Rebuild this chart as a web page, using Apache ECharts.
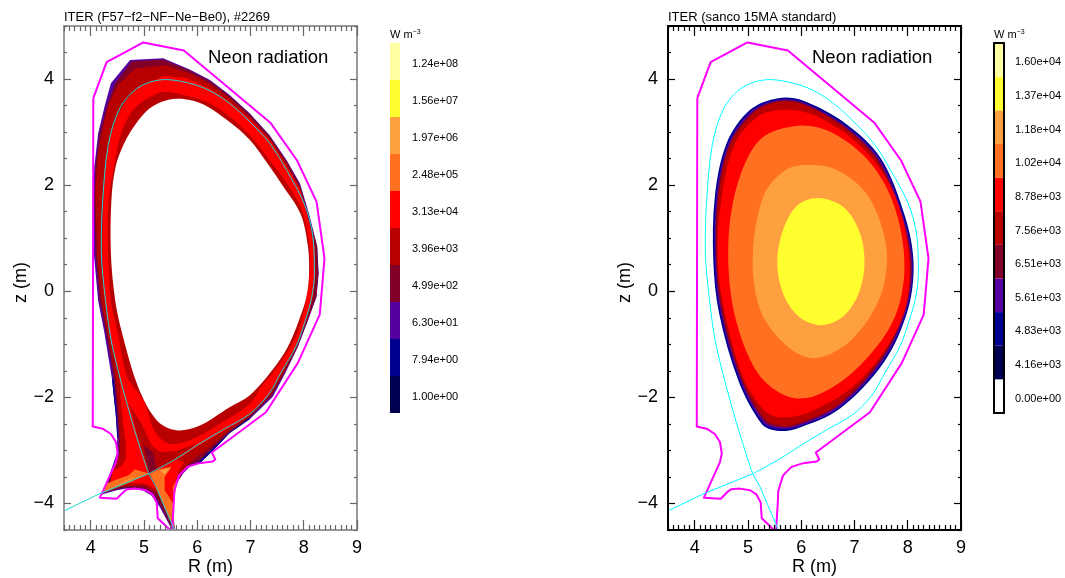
<!DOCTYPE html>
<html><head><meta charset="utf-8"><title>Neon radiation</title>
<script src="https://cdn.jsdelivr.net/npm/echarts@6/dist/echarts.min.js"></script>
<style>html,body{margin:0;padding:0;background:#fff}#c{width:1065px;height:578px}</style></head>
<body><div id="c"></div>
<script>
// ---------- tick values
const rTicks=[4,5,6,7,8,9];
const zTicks=[-4,-2,0,2,4];
const rMinor=[];for(let i=35;i<=90;i++)if(i%10)rMinor.push(i/10);
const zMinor=[-4.5,-3.5,-3,-2.5,-1.5,-1,-0.5,0.5,1,1.5,2.5,3,3.5,4.5,5];

// ---------- colour bars
const cbLeftLabels=['1.00e+00','7.94e+00','6.30e+01','4.99e+02','3.96e+03','3.13e+04','2.48e+05','1.97e+06','1.56e+07','1.24e+08'];
const cbRightLabels=['0.00e+00','4.16e+03','4.83e+03','5.61e+03','6.51e+03','7.56e+03','8.78e+03','1.02e+04','1.18e+04','1.37e+04','1.60e+04'];
const NAVY='#000050',BLUE='#000090',PURPLE='#5500a0',MAROON='#800028',DARK='#b80000',RED='#ff0000',ORANGE='#ff7020',LIGHT='#ffa040',YELLOW='#ffff30',PALE='#ffffa0';
const cbLeftColors=[NAVY,BLUE,PURPLE,MAROON,DARK,RED,ORANGE,LIGHT,YELLOW,PALE];
const cbRightColors=['#ffffff',NAVY,BLUE,PURPLE,MAROON,DARK,RED,ORANGE,LIGHT,YELLOW,PALE];

// ---------- vessel wall and separatrix (R,z in metres)
const wall=[[4.05,3.64],[4.30,4.32],[4.99,4.69],[5.75,4.54],[7.38,3.17],[7.875,2.465],[8.24,1.69],[8.39,0.62],[8.34,0.02],[8.30,-0.44],[7.89,-1.35],[7.29,-2.28],[6.275,-3.04],[6.34,-3.17],[6.29,-3.21],[6.04,-3.24],[5.82,-3.31],[5.66,-3.47],[5.57,-3.76],[5.56,-4.0],[5.54,-4.32],[5.53,-4.5],[5.47,-4.48],[5.26,-4.28],[5.24,-3.98],[5.16,-3.83],[5.04,-3.75],[4.85,-3.72],[4.69,-3.73],[4.63,-3.77],[4.49,-3.91],[4.175,-3.89],[4.475,-3.22],[4.51,-3.06],[4.475,-2.84],[4.38,-2.69],[4.225,-2.59],[4.04,-2.55],[4.05,3.64]];
const sepCore=[[5.09,-3.44],[5.6,-3.16],[6.0,-2.90],[6.5,-2.60],[6.99,-2.31],[7.35,-1.93],[7.58,-1.52],[7.85,-1.05],[8.03,-0.55],[8.15,-0.11],[8.20,0.33],[8.19,0.84],[8.05,1.55],[7.68,2.28],[7.36,2.79],[6.99,3.19],[6.61,3.54],[6.24,3.78],[5.86,3.92],[5.41,3.99],[4.91,3.85],[4.55,3.45],[4.33,2.75],[4.22,1.60],[4.20,0.8],[4.28,-0.17],[4.41,-1.05],[4.79,-2.5],[5.09,-3.44]];
const sepLegOuter=[[3.5,-4.14],[4.16,-3.82],[5.09,-3.44]];
const sepLegInner=[[5.09,-3.44],[5.23,-3.69],[5.57,-4.5]];

// ---------- left panel contour regions (R,z in metres)
const lPurple=[[4.74,4.36],[5.36,4.39],[5.86,4.18],[6.24,3.98],[6.61,3.70],[6.99,3.35],[7.36,2.94],[7.68,2.47],[7.93,2.03],[8.10,1.46],[8.255,0.84],[8.28,0.33],[8.24,-0.11],[8.08,-0.55],[7.89,-1.05],[7.65,-1.55],[7.42,-1.99],[6.99,-2.41],[6.60,-2.68],[6.30,-3.0],[6.05,-3.24],[5.89,-3.28],[5.74,-3.43],[5.61,-3.63],[5.56,-3.88],[5.56,-4.26],[5.58,-4.50],[5.52,-4.48],[5.30,-4.07],[5.14,-3.85],[4.96,-3.74],[4.68,-3.72],[4.49,-3.75],[4.21,-3.83],[4.27,-3.69],[4.39,-3.35],[4.49,-3.06],[4.50,-2.75],[4.47,-2.31],[4.40,-1.65],[4.26,-0.79],[4.14,-0.17],[4.06,0.71],[4.04,1.72],[4.07,2.35],[4.14,2.97],[4.26,3.48],[4.38,3.92]];
const lNavyA=[[4.40,-1.65],[4.47,-2.31],[4.50,-2.75],[4.52,-2.78],[4.49,-2.31],[4.43,-1.65]];
const lNavyB=[[6.99,-2.41],[6.60,-2.68],[6.30,-3.0],[6.05,-3.24],[6.03,-3.21],[6.28,-2.97],[6.60,-2.66],[6.99,-2.38]];
const lMaroon=[[4.77,4.33],[5.36,4.37],[5.86,4.16],[6.24,3.96],[6.61,3.68],[6.99,3.33],[7.36,2.92],[7.68,2.45],[7.92,2.02],[8.09,1.45],[8.25,0.84],[8.275,0.33],[8.235,-0.11],[8.07,-0.55],[7.88,-1.05],[7.64,-1.54],[7.40,-1.97],[6.99,-2.38],[6.60,-2.66],[6.28,-2.97],[6.03,-3.21],[5.89,-3.26],[5.74,-3.41],[5.61,-3.62],[5.56,-3.88],[5.56,-4.26],[5.57,-4.49],[5.52,-4.46],[5.33,-4.07],[5.19,-3.83],[4.98,-3.72],[4.68,-3.70],[4.49,-3.73],[4.27,-3.79],[4.30,-3.69],[4.43,-3.35],[4.52,-3.06],[4.53,-2.75],[4.50,-2.31],[4.44,-1.65],[4.29,-0.79],[4.17,-0.17],[4.09,0.71],[4.07,1.72],[4.09,2.35],[4.17,2.97],[4.30,3.48],[4.46,3.92]];
const lDark=[[4.83,4.20],[5.39,4.26],[5.86,4.11],[6.24,3.91],[6.61,3.64],[6.99,3.29],[7.36,2.88],[7.68,2.41],[7.89,1.98],[8.05,1.40],[8.20,0.84],[8.22,0.33],[8.18,-0.11],[8.05,-0.55],[7.86,-1.05],[7.62,-1.54],[7.37,-1.96],[6.97,-2.36],[6.58,-2.64],[6.24,-2.94],[5.99,-3.13],[5.83,-3.26],[5.69,-3.43],[5.58,-3.63],[5.54,-3.88],[5.55,-4.32],[5.52,-4.38],[5.36,-4.0],[5.23,-3.79],[4.99,-3.66],[4.68,-3.67],[4.49,-3.69],[4.30,-3.75],[4.33,-3.69],[4.46,-3.35],[4.55,-3.06],[4.55,-2.75],[4.53,-2.31],[4.47,-1.65],[4.32,-0.79],[4.20,-0.17],[4.12,0.71],[4.09,1.90],[4.13,2.53],[4.22,3.04],[4.34,3.54],[4.52,3.89]];
const lRed=[[5.36,4.06],[5.80,4.02],[6.24,3.82],[6.61,3.57],[6.99,3.24],[7.36,2.85],[7.68,2.35],[7.93,1.94],[8.10,1.30],[8.21,0.84],[8.22,0.33],[8.17,-0.11],[8.04,-0.55],[7.85,-1.05],[7.60,-1.50],[7.35,-1.95],[6.99,-2.33],[6.50,-2.64],[6.0,-2.92],[5.61,-3.18],[5.76,-3.22],[5.64,-3.41],[5.58,-3.63],[5.55,-4.07],[5.54,-4.38],[5.41,-4.07],[5.27,-3.75],[5.02,-3.63],[4.68,-3.62],[4.46,-3.64],[4.27,-3.77],[4.36,-3.63],[4.42,-3.36],[4.55,-3.33],[4.66,-3.16],[4.66,-2.87],[4.61,-2.50],[4.56,-1.99],[4.55,-1.74],[4.50,-1.40],[4.41,-1.05],[4.30,-0.48],[4.24,0.03],[4.22,0.97],[4.24,1.72],[4.27,2.35],[4.36,2.86],[4.50,3.30],[4.68,3.61],[4.91,3.85],[5.16,3.96]];
const lDarkInner=[[5.39,3.76],[5.86,3.67],[6.24,3.54],[6.61,3.29],[6.99,2.94],[7.36,2.47],[7.68,2.03],[7.99,1.46],[8.12,0.52],[7.96,-0.55],[7.75,-1.05],[7.46,-1.49],[7.22,-1.78],[6.99,-2.12],[6.42,-2.50],[5.86,-2.81],[5.46,-2.87],[5.21,-2.65],[4.99,-2.06],[4.69,-1.62],[4.51,-0.79],[4.38,-0.17],[4.33,0.71],[4.34,1.72],[4.46,2.47],[4.55,2.91],[4.71,3.29],[4.89,3.51],[5.14,3.67]];
const lHole=[[5.43,3.60],[5.77,3.62],[6.14,3.51],[6.61,3.19],[6.99,2.85],[7.36,2.35],[7.60,2.0],[7.94,1.46],[8.08,0.84],[8.10,0.33],[8.05,-0.11],[7.91,-0.55],[7.70,-1.05],[7.40,-1.50],[6.99,-1.96],[6.60,-2.19],[6.05,-2.53],[5.61,-2.62],[5.24,-2.43],[4.89,-1.80],[4.59,-0.79],[4.46,-0.17],[4.38,0.71],[4.39,1.72],[4.47,2.35],[4.63,2.79],[4.86,3.17],[5.11,3.45]];
const lDarkWedge=[[4.72,-2.12],[4.96,-2.50],[5.14,-2.90],[5.30,-3.03],[5.61,-3.01],[5.99,-2.87],[5.61,-3.16],[5.10,-3.44],[4.92,-2.87]];
const lMaroonWedge=[[4.99,-2.90],[5.10,-3.43],[5.24,-3.33],[5.17,-3.03]];
const lOrangeLeft=[[4.19,-3.82],[4.29,-3.63],[4.49,-3.55],[4.71,-3.47],[4.83,-3.36],[5.02,-3.41],[5.09,-3.44],[4.74,-3.60],[4.36,-3.75]];
const lLightLeft=[[4.22,-3.79],[4.49,-3.66],[4.71,-3.55],[4.86,-3.48],[4.71,-3.57],[4.36,-3.73]];
const lOrangeRight=[[5.11,-3.44],[5.30,-3.35],[5.52,-3.31],[5.39,-3.50],[5.39,-3.75],[5.55,-4.0],[5.57,-4.46],[5.49,-4.32],[5.33,-3.94],[5.21,-3.63]];
const lOrangeStreak=[[5.63,-3.53],[5.56,-4.0],[5.54,-3.69]];
const lLightRight=[[5.30,-3.38],[5.49,-3.33],[5.39,-3.45]];

// ---------- right panel contour regions (R,z in metres)
const rNavy=[[5.57,3.64],[6.04,3.59],[6.85,3.15],[7.50,2.50],[7.95,1.41],[8.11,0.53],[8.00,-0.36],[7.56,-1.33],[6.73,-2.21],[5.91,-2.59],[5.55,-2.63],[5.26,-2.50],[4.82,-1.68],[4.46,-0.42],[4.35,0.59],[4.38,1.79],[4.60,2.79],[5.04,3.42]];
const rPurple=[[5.57,3.61],[6.04,3.56],[6.83,3.12],[7.48,2.48],[7.92,1.40],[8.09,0.53],[7.98,-0.35],[7.54,-1.30],[6.72,-2.18],[5.91,-2.56],[5.56,-2.59],[5.28,-2.47],[4.85,-1.67],[4.49,-0.41],[4.38,0.59],[4.41,1.79],[4.63,2.78],[5.06,3.39]];
const rMaroon=[[5.57,3.59],[6.04,3.54],[6.82,3.10],[7.46,2.46],[7.90,1.39],[8.07,0.53],[7.96,-0.34],[7.52,-1.28],[6.71,-2.15],[5.91,-2.53],[5.57,-2.56],[5.30,-2.44],[4.87,-1.66],[4.51,-0.40],[4.40,0.59],[4.43,1.79],[4.65,2.77],[5.08,3.37]];
const rDark=[[5.57,3.57],[6.04,3.52],[6.81,3.08],[7.44,2.44],[7.88,1.38],[8.05,0.53],[7.94,-0.33],[7.50,-1.26],[6.70,-2.13],[5.91,-2.50],[5.58,-2.53],[5.32,-2.41],[4.89,-1.65],[4.53,-0.39],[4.42,0.59],[4.45,1.79],[4.67,2.76],[5.10,3.35]];
const rRed=[[5.70,3.42],[6.29,3.30],[7.05,2.80],[7.65,2.04],[7.97,1.09],[8.02,0.02],[7.76,-0.80],[7.04,-1.74],[6.16,-2.28],[5.60,-2.38],[5.30,-2.24],[4.91,-1.62],[4.57,-0.42],[4.43,0.59],[4.51,1.79],[4.76,2.79],[5.20,3.30]];
const rOrange=[[5.95,3.12],[6.60,2.98],[7.30,2.42],[7.75,1.60],[7.94,0.47],[7.73,-0.55],[7.04,-1.46],[6.29,-1.96],[5.76,-1.99],[5.19,-1.55],[4.76,-0.48],[4.63,0.78],[4.79,1.97],[5.23,2.86]];
const rLight=[[6.10,2.38],[6.66,2.29],[7.26,1.79],[7.60,0.80],[7.48,-0.11],[6.94,-0.92],[6.29,-1.26],[5.79,-1.08],[5.26,-0.42],[5.09,0.60],[5.29,1.79],[5.70,2.28]];
const rYellow=[[6.32,1.76],[6.78,1.60],[7.08,1.16],[7.19,0.56],[7.08,-0.04],[6.78,-0.48],[6.37,-0.64],[5.96,-0.48],[5.66,-0.04],[5.55,0.56],[5.66,1.16],[5.93,1.62]];

const FONT='"Liberation Sans",Arial,sans-serif';
const fmt=v=>String(v).replace('-','\u2212');
const grids=[],xAxes=[],yAxes=[],series=[];

function plotFrame(left,frameColor,tickColor){
  const g=grids.length;
  grids.push({left,top:26,width:293,height:504,outerBoundsMode:'none'});
  const base={gridIndex:g,min:3.5,max:9,type:'value',splitLine:{show:false},z:4,animation:false};
  const line={show:true,onZero:false,lineStyle:{color:frameColor,width:2}};
  const noLine={show:false,onZero:false};
  const xi=xAxes.length;
  const tick=(vals,len)=>({show:true,inside:true,length:len,customValues:vals,lineStyle:{color:tickColor,width:1.2}});
  xAxes.push({...base,position:'bottom',axisLine:line,axisTick:tick(rTicks,10),
    axisLabel:{customValues:rTicks,margin:9,fontFamily:FONT,fontSize:18,color:'#000',formatter:fmt},
    name:'R (m)',nameLocation:'middle',nameGap:28,nameMoveOverlap:false,nameTextStyle:{fontFamily:FONT,fontSize:18,color:'#000'}});
  xAxes.push({...base,position:'bottom',axisLine:noLine,axisTick:tick(rMinor,5),axisLabel:{show:false}});
  xAxes.push({...base,position:'top',axisLine:line,axisTick:tick(rTicks,10),axisLabel:{show:false}});
  xAxes.push({...base,position:'top',axisLine:noLine,axisTick:tick(rMinor,5),axisLabel:{show:false}});
  const yb={...base,min:-4.5,max:5};
  const yi=yAxes.length;
  yAxes.push({...yb,position:'left',axisLine:line,axisTick:tick(zTicks,7),
    axisLabel:{customValues:zTicks,margin:10,fontFamily:FONT,fontSize:18,color:'#000',formatter:fmt},
    name:'z (m)',nameLocation:'middle',nameRotate:90,nameGap:27,nameTextStyle:{fontFamily:FONT,fontSize:18,color:'#000',padding:[0,9,0,0]}});
  yAxes.push({...yb,position:'left',axisLine:noLine,axisTick:tick(zMinor,3),axisLabel:{show:false}});
  yAxes.push({...yb,position:'right',axisLine:line,axisTick:tick(zTicks,7),axisLabel:{show:false}});
  yAxes.push({...yb,position:'right',axisLine:noLine,axisTick:tick(zMinor,3),axisLabel:{show:false}});
  return {xi,yi};
}
function region(ax,pts,color,smooth){
  series.push({type:'custom',coordinateSystem:'cartesian2d',xAxisIndex:ax.xi,yAxisIndex:ax.yi,data:pts,silent:true,animation:false,clip:true,
    encode:{x:0,y:1},
    renderItem(params,api){
      if(params.dataIndex!==0)return null;
      return {type:'polygon',shape:{points:pts.map(p=>api.coord(p)),smooth:smooth||0},style:{fill:color,stroke:null}};
    }});
}
function curve(ax,pts,color,width,smooth){
  series.push({type:'line',xAxisIndex:ax.xi,yAxisIndex:ax.yi,data:pts,showSymbol:false,symbol:'none',smooth:smooth||false,silent:true,animation:false,z:3,
    lineStyle:{color,width,join:'round'}});
}
function colorBar(left,labels,colors,margin,border){
  const g=grids.length;
  grids.push({left,top:43,width:10,height:370,outerBoundsMode:'none'});
  const xi=xAxes.length,yi=yAxes.length;
  const ln=border?{show:true,onZero:false,lineStyle:{color:'#000',width:2}}:{show:false};
  const cb={gridIndex:g,z:5,splitLine:{show:false},axisTick:{show:false},axisLabel:{show:false},axisLine:ln};
  xAxes.push({...cb,type:'value',min:0,max:1,position:'bottom'});
  xAxes.push({...cb,type:'value',min:0,max:1,position:'top'});
  yAxes.push({...cb,type:'category',data:labels,position:'right',
    axisLabel:{show:true,interval:0,margin,formatter:v=>'{a|'+v+'}',
      rich:{a:{fontFamily:FONT,fontSize:11,color:'#000',padding:[5,0,0,0]}}}});
  yAxes.push({...cb,type:'category',data:labels,position:'left'});
  series.push({type:'bar',xAxisIndex:xi,yAxisIndex:yi,barWidth:'100%',silent:true,animation:false,
    data:colors.map(c=>({value:1,itemStyle:{color:c}}))});
}

const L=plotFrame(64,'#999999','#666666');
const R=plotFrame(668,'#000000','#000000');
const SMOOTH=0.33;

curve(L,wall,'#ff00ff',2);
[[lPurple,PURPLE],[lNavyA,BLUE],[lNavyB,BLUE],[lMaroon,MAROON],[lDark,DARK],[lRed,RED],[lDarkInner,DARK,SMOOTH],[lHole,'#ffffff',SMOOTH],
 [lDarkWedge,DARK],[lMaroonWedge,MAROON],[lOrangeLeft,ORANGE],[lLightLeft,LIGHT],[lOrangeRight,ORANGE],[lOrangeStreak,ORANGE],[lLightRight,LIGHT]]
 .forEach(([p,c,s])=>region(L,p,c,s));
curve(L,sepCore,'#20d8d8',1,0.33);curve(L,sepLegOuter,'#20d8d8',1);curve(L,sepLegInner,'#20d8d8',1);

curve(R,wall,'#ff00ff',2);
[[rNavy,BLUE],[rPurple,PURPLE],[rMaroon,MAROON],[rDark,DARK],[rRed,RED],[rOrange,ORANGE],[rLight,LIGHT],[rYellow,YELLOW]]
 .forEach(([p,c])=>region(R,p,c,SMOOTH));
curve(R,sepCore,'#00ffff',1,0.33);curve(R,sepLegOuter,'#00ffff',1);curve(R,sepLegInner,'#00ffff',1);

colorBar(390,cbLeftLabels,cbLeftColors,12,false);
colorBar(994,cbRightLabels,cbRightColors,11,true);

const headStyle={fontFamily:FONT,fontSize:13,fontWeight:'normal',color:'#000'};
const neonStyle={fontFamily:FONT,fontSize:18.5,fontWeight:'normal',color:'#000'};
const unitStyle={fontFamily:FONT,fontSize:11,fontWeight:'normal',color:'#000',rich:{s:{fontFamily:FONT,fontSize:7,color:'#000',verticalAlign:'top',padding:[0,0,4,0]}}};
const titles=[
 {text:'ITER (F57\u2212f2\u2212NF\u2212Ne\u2212Be0), #2269',left:64,top:11,padding:0,textStyle:headStyle},
 {text:'ITER (sanco 15MA standard)',left:668,top:11,padding:0,textStyle:headStyle},
 {text:'Neon radiation',left:208,top:48,padding:0,textStyle:neonStyle},
 {text:'Neon radiation',left:812,top:48,padding:0,textStyle:neonStyle},
 {text:'W m{s|\u22123}',left:390,top:29,padding:0,textStyle:unitStyle},
 {text:'W m{s|\u22123}',left:994,top:29,padding:0,textStyle:unitStyle}
];

const chart=echarts.init(document.getElementById('c'),null,{renderer:'canvas'});
chart.setOption({backgroundColor:'#fff',animation:false,title:titles,grid:grids,xAxis:xAxes,yAxis:yAxes,series});
</script></body></html>
